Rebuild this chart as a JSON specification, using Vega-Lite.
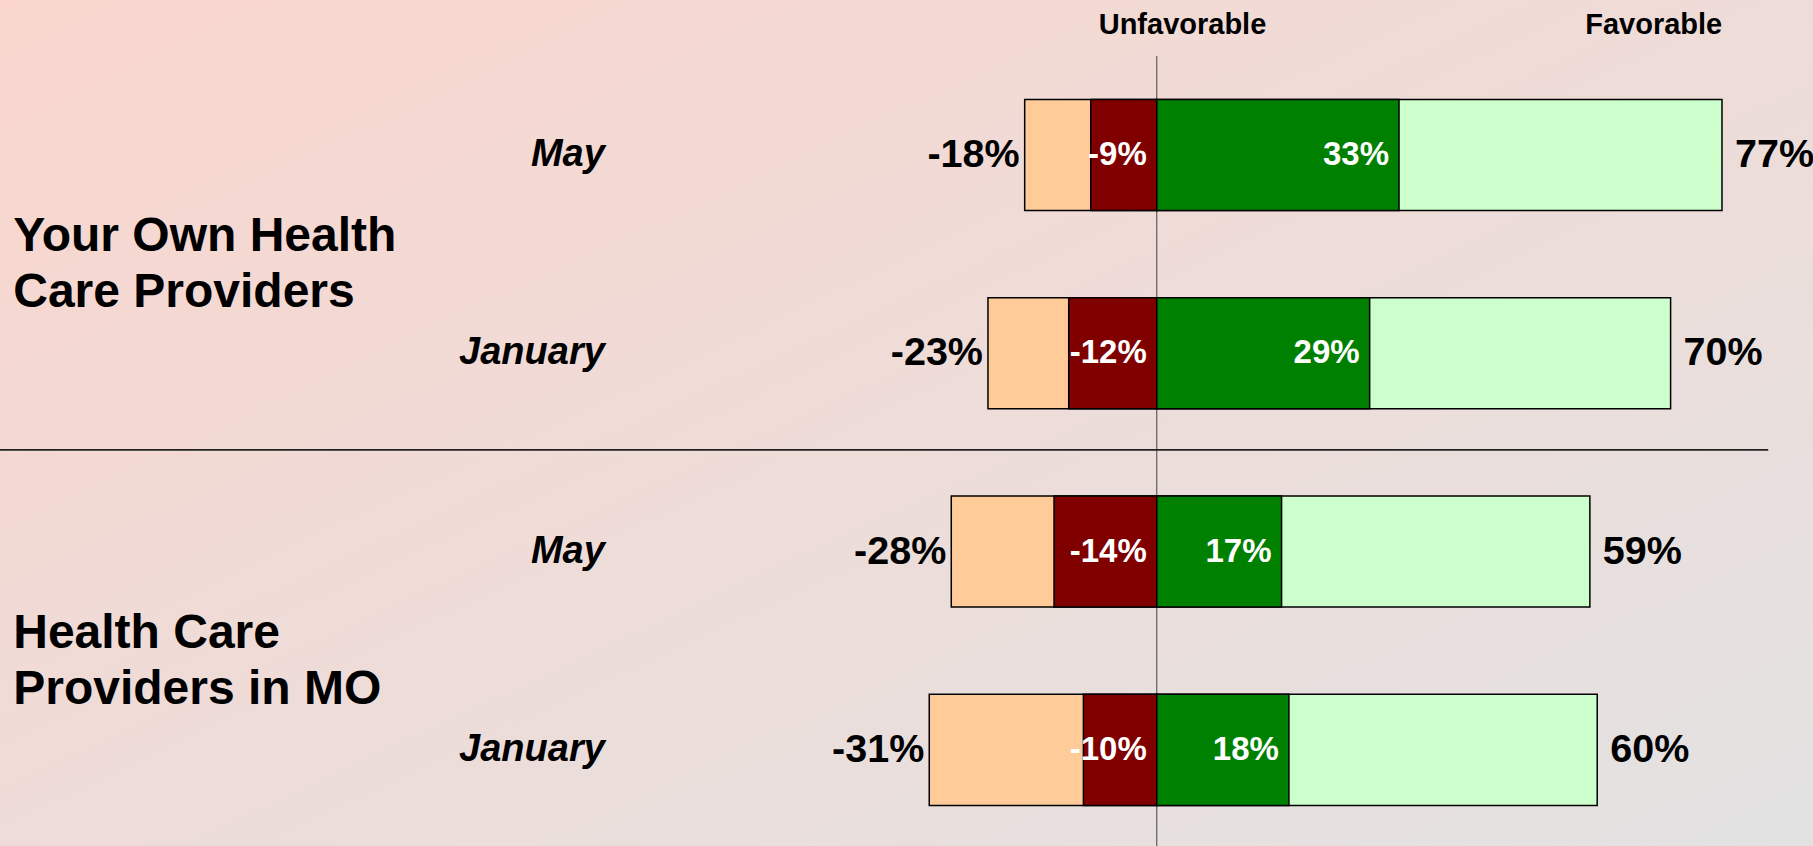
{
  "$schema": "https://vega.github.io/schema/vega-lite/v6.json",
  "width": 1813,
  "height": 846,
  "padding": 0,
  "autosize": {"type": "none"},
  "background": "#ECDEDC",
  "config": {
    "view": {"stroke": null, "fill": {"gradient": "linear", "x1": 0, "y1": 0, "x2": 1, "y2": 1, "stops": [{"offset": 0, "color": "#FAD6CE"}, {"offset": 1, "color": "#E2E2E2"}]}},
    "locale": {"number": {"decimal": ".", "thousands": ",", "grouping": [3], "currency": ["$", ""], "minus": "-"}}
  },
  "data": {
    "values": [
      {"bar": "Own May", "group": "Your Own Health\nCare Providers", "period": "May", "unfav_total": -0.18, "unfav_strong": -0.09, "fav_strong": 0.33, "fav_total": 0.77},
      {"bar": "Own January", "group": "Your Own Health\nCare Providers", "period": "January", "unfav_total": -0.23, "unfav_strong": -0.12, "fav_strong": 0.29, "fav_total": 0.70},
      {"bar": "MO May", "group": "Health Care\nProviders in MO", "period": "May", "unfav_total": -0.28, "unfav_strong": -0.14, "fav_strong": 0.17, "fav_total": 0.59},
      {"bar": "MO January", "group": "Health Care\nProviders in MO", "period": "January", "unfav_total": -0.31, "unfav_strong": -0.10, "fav_strong": 0.18, "fav_total": 0.60}
    ]
  },
  "layer": [
    {
      "data": {"values": [{}]},
      "mark": {"type": "rule", "stroke": "#444444", "strokeWidth": 1},
      "encoding": {
        "x": {"datum": 0, "type": "quantitative", "scale": {"domain": [-1.576, 0.894], "nice": false, "zero": false}, "axis": null},
        "y": {"datum": "Own May", "type": "nominal", "bandPosition": -0.39, "scale": {"domain": ["Own May", "Own January", "MO May", "MO January"], "paddingInner": 0.44, "paddingOuter": 0.353, "align": 0.71}, "axis": null},
        "y2": {"datum": "MO January", "bandPosition": 1.5}
      }
    },
    {
      "data": {"values": [{}]},
      "mark": {"type": "rule", "stroke": "#222222", "strokeWidth": 1.6},
      "encoding": {
        "x": {"datum": -1.576, "type": "quantitative"},
        "x2": {"datum": 0.833},
        "y": {"datum": "Own January", "type": "nominal", "bandPosition": 1.37}
      }
    },
    {
      "mark": {"type": "bar", "fill": "#FFCC99", "stroke": "#000000", "strokeWidth": 1.5},
      "encoding": {
        "x": {"field": "unfav_total", "type": "quantitative"},
        "y": {"field": "bar", "type": "nominal"}
      }
    },
    {
      "mark": {"type": "bar", "fill": "#CCFFCC", "stroke": "#000000", "strokeWidth": 1.5},
      "encoding": {
        "x": {"field": "fav_total", "type": "quantitative"},
        "y": {"field": "bar", "type": "nominal"}
      }
    },
    {
      "mark": {"type": "bar", "fill": "#800000", "stroke": "#000000", "strokeWidth": 1.5},
      "encoding": {
        "x": {"field": "unfav_strong", "type": "quantitative"},
        "y": {"field": "bar", "type": "nominal"}
      }
    },
    {
      "mark": {"type": "bar", "fill": "#008000", "stroke": "#000000", "strokeWidth": 1.5},
      "encoding": {
        "x": {"field": "fav_strong", "type": "quantitative"},
        "y": {"field": "bar", "type": "nominal"}
      }
    },
    {
      "mark": {"type": "text", "font": "Liberation Sans", "fontWeight": "bold", "fontSize": 39.5, "align": "right", "baseline": "middle", "dx": -5, "color": "#000000"},
      "encoding": {
        "x": {"field": "unfav_total", "type": "quantitative"},
        "y": {"field": "bar", "type": "nominal"},
        "text": {"field": "unfav_total", "type": "quantitative", "format": ".0%"}
      }
    },
    {
      "mark": {"type": "text", "font": "Liberation Sans", "fontWeight": "bold", "fontSize": 39.5, "align": "left", "baseline": "middle", "dx": 13, "color": "#000000"},
      "encoding": {
        "x": {"field": "fav_total", "type": "quantitative"},
        "y": {"field": "bar", "type": "nominal"},
        "text": {"field": "fav_total", "type": "quantitative", "format": ".0%"}
      }
    },
    {
      "mark": {"type": "text", "font": "Liberation Sans", "fontWeight": "bold", "fontSize": 33, "align": "right", "baseline": "middle", "dx": -10, "color": "#FFFFFF"},
      "encoding": {
        "x": {"datum": 0, "type": "quantitative"},
        "y": {"field": "bar", "type": "nominal"},
        "text": {"field": "unfav_strong", "type": "quantitative", "format": ".0%"}
      }
    },
    {
      "mark": {"type": "text", "font": "Liberation Sans", "fontWeight": "bold", "fontSize": 33, "align": "right", "baseline": "middle", "dx": -10, "color": "#FFFFFF"},
      "encoding": {
        "x": {"field": "fav_strong", "type": "quantitative"},
        "y": {"field": "bar", "type": "nominal"},
        "text": {"field": "fav_strong", "type": "quantitative", "format": ".0%"}
      }
    },
    {
      "mark": {"type": "text", "font": "Liberation Sans", "fontWeight": "bold", "fontStyle": "italic", "fontSize": 38, "align": "right", "baseline": "middle", "color": "#000000"},
      "encoding": {
        "x": {"datum": -0.752, "type": "quantitative"},
        "y": {"field": "bar", "type": "nominal"},
        "text": {"field": "period", "type": "nominal"}
      }
    },
    {
      "transform": [{"filter": "datum.period === 'January'"}],
      "mark": {"type": "text", "font": "Liberation Sans", "fontWeight": "bold", "fontSize": 48, "align": "left", "baseline": "middle", "lineBreak": "\n", "lineHeight": 56, "color": "#000000"},
      "encoding": {
        "x": {"datum": -1.558, "type": "quantitative"},
        "y": {"field": "bar", "type": "nominal", "bandPosition": -0.545},
        "text": {"field": "group", "type": "nominal"}
      }
    },
    {
      "data": {"values": [{"label": "Unfavorable"}]},
      "mark": {"type": "text", "font": "Liberation Sans", "fontWeight": "bold", "fontSize": 29, "align": "center", "baseline": "middle", "color": "#000000"},
      "encoding": {
        "x": {"datum": 0.035, "type": "quantitative"},
        "y": {"datum": "Own May", "type": "nominal", "bandPosition": -0.67},
        "text": {"field": "label", "type": "nominal"}
      }
    },
    {
      "data": {"values": [{"label": "Favorable"}]},
      "mark": {"type": "text", "font": "Liberation Sans", "fontWeight": "bold", "fontSize": 29, "align": "center", "baseline": "middle", "color": "#000000"},
      "encoding": {
        "x": {"datum": 0.677, "type": "quantitative"},
        "y": {"datum": "Own May", "type": "nominal", "bandPosition": -0.67},
        "text": {"field": "label", "type": "nominal"}
      }
    }
  ]
}
